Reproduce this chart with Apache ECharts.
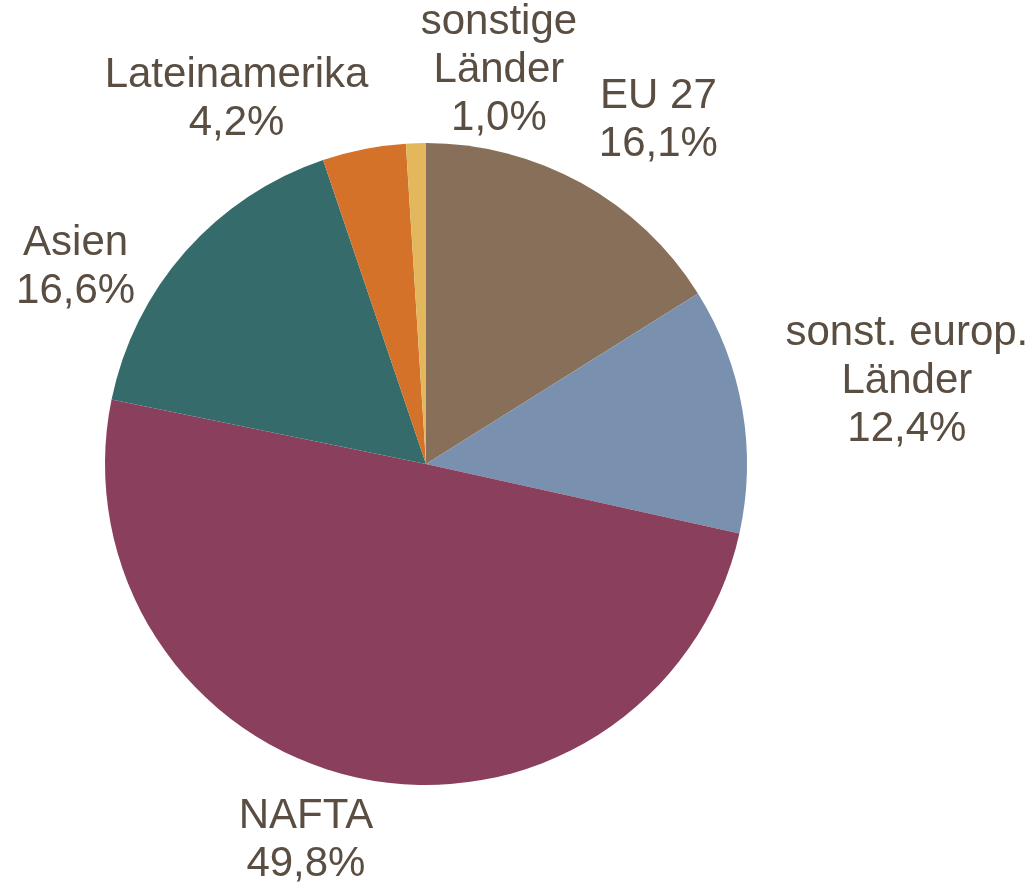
<!DOCTYPE html>
<html>
<head>
<meta charset="utf-8">
<script src="https://cdn.jsdelivr.net/npm/echarts@6/dist/echarts.min.js"></script>
<style>html,body{margin:0;padding:0;background:#fff}#c{width:1032px;height:886px}</style>
</head>
<body>
<div id="c"></div>
<script>
const categories = ['EU 27', 'sonst. europ.\nLänder', 'NAFTA', 'Asien', 'Lateinamerika', 'sonstige\nLänder'];
const values = [16.1, 12.4, 49.8, 16.6, 4.2, 1.0];
const valueLabels = ['16,1%', '12,4%', '49,8%', '16,6%', '4,2%', '1,0%'];
const colors = ['#876F5A', '#7990AE', '#8A3F5D', '#366B6B', '#D4722A', '#E3B75B'];

// label placement: angular nudge (deg) from slice mid-angle, and distance from center (px)
const labelNudge = [5.1, 0, 5.65, -12.1, -16.3, 12.3];
const labelDist = [415, 488, 395, 402, 411, 400];

const CX = 426, CY = 464, R = 321;
const total = values.reduce((a, b) => a + b, 0);
const midAngles = [];
let acc = 0;
values.forEach(v => { midAngles.push((acc + v / 2) / total * 360); acc += v; });

const chart = echarts.init(document.getElementById('c'), null, {renderer: 'canvas'});
chart.setOption({
  animation: false,
  backgroundColor: '#ffffff',
  series: [{
    type: 'pie',
    center: [CX, CY],
    radius: R,
    startAngle: 90,
    clockwise: true,
    avoidLabelOverlap: false,
    data: categories.map((c, i) => ({name: c, value: values[i], itemStyle: {color: colors[i]}})),
    label: {
      show: true,
      position: 'outside',
      formatter: p => p.name + '\n' + valueLabels[p.dataIndex],
      fontFamily: '"Liberation Sans", Arial, sans-serif',
      fontSize: 42,
      lineHeight: 48,
      color: '#5A4D41',
      align: 'center'
    },
    labelLine: {show: false},
    labelLayout: function (p) {
      const i = p.dataIndex;
      const a = (midAngles[i] + labelNudge[i]) * Math.PI / 180;
      return {
        x: CX + labelDist[i] * Math.sin(a),
        y: CY - labelDist[i] * Math.cos(a),
        align: 'center',
        verticalAlign: 'middle'
      };
    },
    emphasis: {disabled: true}
  }]
});
</script>
</body>
</html>
